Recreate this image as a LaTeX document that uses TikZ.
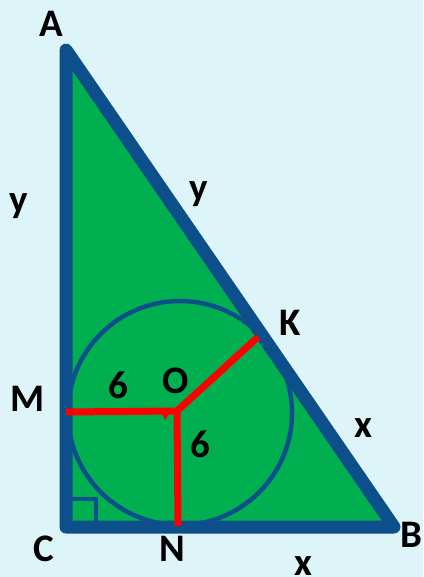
\documentclass[tikz,border=0pt]{standalone}
\usepackage{fontspec}
\setmainfont{Carlito}
\definecolor{bgc}{HTML}{DDF4F9}
\definecolor{tri}{HTML}{00B050}
\definecolor{edge}{HTML}{0D4F8B}
\definecolor{rad}{HTML}{FF0000}
\tikzset{
  lbl/.style={font=\fontsize{39}{39}\selectfont\bfseries, text=black, inner sep=0pt, anchor=center},
  side/.style={draw=edge, line width=13pt, line join=round, line cap=round},
  radius line/.style={draw=rad, line width=7pt},
}
\begin{document}
\begin{tikzpicture}[x=1pt,y=-1pt]
\fill[bgc] (0,0) rectangle (423,577);
\useasboundingbox (0,0) rectangle (423,577);
\coordinate (A) at (66,50);
\coordinate (C) at (66,527);
\coordinate (B) at (394,527);
\coordinate (O) at (177,411);
\coordinate (M) at (66,412);
\coordinate (K) at (258,337);
\coordinate (N) at (178,526);
% triangle fill
\fill[tri] (A) -- (B) -- (C) -- cycle;
% right angle square
\draw[edge, line width=4pt] (68,499) rectangle (96,526);
% incircle
\draw[edge, line width=4.5pt] (180,413) circle[radius=112];
% triangle outline
\draw[side] (A) -- (B) -- (C) -- cycle;
% radii
\draw[radius line] (M) -- (O);
\draw[radius line] (O) -- (K);
\draw[radius line] (O) -- (N);
\fill[rad] (160,410) -- (172,410) -- (165,420) -- cycle;
% labels
\node[lbl] (lA) at (51,24) {A};
\node[lbl] (lyL) at (19,206) {y};
\node[lbl] (lyH) at (199,194) {y};
\node[lbl] (lK) at (290,323) {K};
\node[lbl] (lM) at (28,399) {M};
\node[lbl] (l6a) at (118,385) {6};
\node[lbl] (lO) at (176,381) {O};
\node[lbl] (l6b) at (200,444) {6};
\node[lbl] (lxH) at (363,428) {x};
\node[lbl] (lC) at (44,549) {C};
\node[lbl] (lN) at (172,549) {N};
\node[lbl] (lB) at (411,535) {B};
\node[lbl] (lxB) at (303,566) {x};
\end{tikzpicture}
\end{document}
